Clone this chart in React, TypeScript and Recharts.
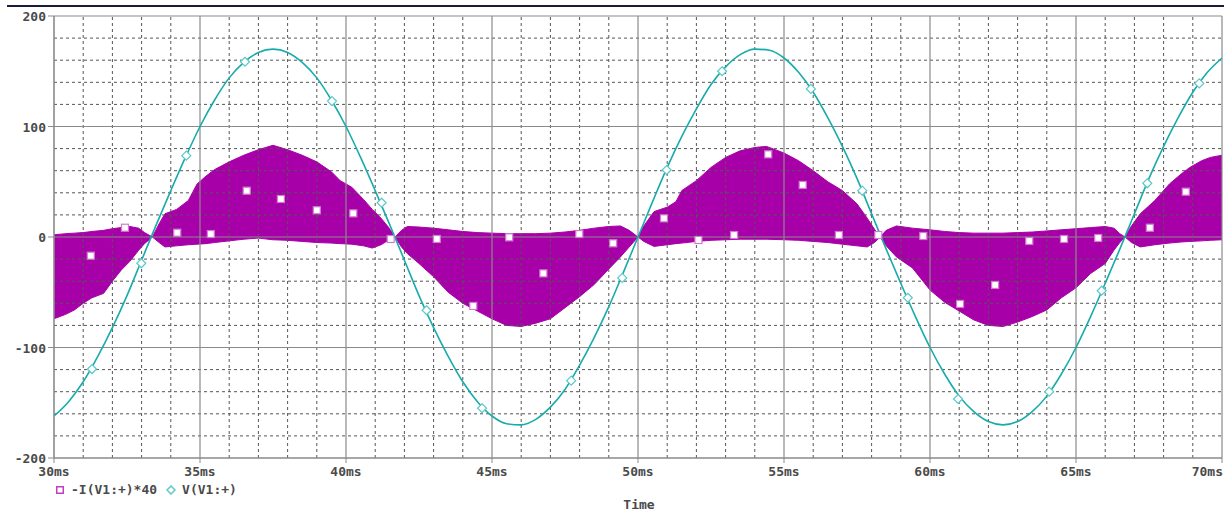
import React from 'react';
import { ComposedChart, Line, Area, Scatter, XAxis, YAxis, ReferenceLine } from 'recharts';

const vTimes = [30, 30.5, 31, 31.5, 32, 32.5, 33, 33.5, 34, 34.5, 35, 35.5, 36, 36.5, 37, 37.5, 38, 38.5, 39, 39.5, 40, 40.5, 41, 41.5, 42, 42.5, 43, 43.5, 44, 44.5, 45, 45.5, 46, 46.5, 47, 47.5, 48, 48.5, 49, 49.5, 50, 50.5, 51, 51.5, 52, 52.5, 53, 53.5, 54, 54.5, 55, 55.5, 56, 56.5, 57, 57.5, 58, 58.5, 59, 59.5, 60, 60.5, 61, 61.5, 62, 62.5, 63, 63.5, 64, 64.5, 65, 65.5, 66, 66.5, 67, 67.5, 68, 68.5, 69, 69.5, 70];
const vValues = [-162, -149, -131, -108, -82, -53, -21, 11, 42, 72, 100, 124, 144, 158, 167, 170, 167, 158, 144, 124, 100, 72, 42, 11, -21, -53, -82, -108, -131, -149, -162, -169, -170, -165, -154, -138, -116, -91, -63, -32, 0, 32, 63, 91, 116, 138, 154, 165, 170, 169, 162, 149, 131, 108, 82, 53, 21, -11, -42, -72, -100, -124, -144, -158, -167, -170, -167, -158, -144, -124, -100, -72, -42, -11, 21, 53, 82, 108, 131, 149, 162];

// Current -I(V1:+)*40 : ripple envelope (upper / lower)
const iTimes = [30, 30.4, 30.7, 31.0, 31.3, 31.7, 32.0, 32.3, 32.6, 32.9, 33.1, 33.37,
  33.6, 33.8, 34.2, 34.6, 34.9, 35.2, 35.5, 36.0, 36.5, 37.0, 37.5, 38.0, 38.5, 39.0, 39.5, 39.8, 40.2, 40.6, 40.9, 41.2, 41.45, 41.68,
  41.9, 42.1, 42.5, 43.0, 43.5, 44.0, 44.5, 45.0, 45.5, 46.0, 46.5, 47.0, 47.5, 48.0, 48.5, 49.0, 49.4, 49.7, 50.0,
  50.2, 50.55, 51.0, 51.3, 51.5, 52.0, 52.5, 53.0, 53.5, 54.0, 54.4, 55.0, 55.5, 56.0, 56.5, 57.0, 57.5, 57.85, 58.1, 58.29,
  58.5, 58.85, 59.4, 60.0, 60.5, 61.0, 61.5, 62.0, 62.5, 63.0, 63.5, 64.0, 64.5, 65.0, 65.5, 66.0, 66.3, 66.5, 66.68,
  66.9, 67.2, 67.7, 68.2, 68.6, 68.9, 69.3, 69.6, 70.0];
const iUpper = [2, 3, 3.5, 4, 5, 6, 7.5, 8.5, 9.5, 8, 4, 0,
  12, 21, 25, 33, 48, 55, 61, 68, 74, 79, 83, 79, 74, 68, 59, 51, 45, 34, 25, 17, 9, 0,
  6, 9.5, 9, 8, 6.5, 5, 4, 3.5, 3, 3, 3, 3.5, 4.5, 6, 8, 9.5, 10, 6, 0,
  10, 23, 27, 32, 42, 51, 63, 72, 78, 81, 82, 76, 69, 60, 50, 42, 30, 17, 7, 0,
  6, 10, 8, 6.5, 5, 4, 3.5, 3.5, 3.5, 4, 4.5, 5.5, 6.5, 7.5, 8.5, 9.5, 8, 3, 0,
  10, 21, 33, 48, 57, 63, 69, 72, 74];
const iLower = [-74, -70, -66, -60, -55, -51, -40, -30, -22, -12, -6, 0,
  -5, -9, -8, -7, -6.5, -6, -5, -3.5, -2, -1, -2.5, -3, -4, -5, -5.5, -6, -6.5, -8, -10, -7, -3, 0,
  -9, -15, -24, -36, -50, -60, -67, -74, -80, -81, -78, -74, -64, -54, -43, -29, -18, -9, 0,
  -4, -8.5, -7, -6, -5.5, -4, -3, -2.5, -2, -2, -2, -2.5, -3, -4, -5, -6.5, -8, -9, -5, 0,
  -8, -18, -28, -48, -59, -67, -75, -80, -81, -77, -72, -66, -55, -46, -33, -24, -12, -5, 0,
  -5, -9, -7, -5.5, -4.5, -4, -3.5, -3, -2.5];

// Square markers on the current trace
const sqTimes = [31.26, 32.43, 34.22, 35.37, 36.6, 37.77, 39.0, 40.25, 41.53, 43.11, 44.36, 45.59, 46.76, 47.99, 49.15, 50.89, 52.07, 53.29, 54.46, 55.64, 56.88, 58.23, 59.77, 61.03, 62.23, 63.4, 64.59, 65.76, 67.53, 68.76];
const sqValues = [-16.9, 8.4, 3.9, 2.7, 41.9, 34.4, 24.2, 21.4, -1.8, -1.8, -62.4, -0.3, -32.9, 2.7, -5.7, 16.9, -2.7, 1.8, 74.8, 47.1, 1.8, 1.8, 0.9, -60.6, -43.4, -3.6, -1.8, -0.9, 8.4, 41.0];

// Diamond markers on the voltage trace
const dmTimes = [31.3, 32.99, 34.53, 36.54, 39.52, 41.22, 42.76, 44.66, 47.71, 49.46, 50.98, 52.88, 55.92, 57.68, 59.24, 60.96, 64.08, 65.88, 67.44, 69.22];
const dmValues = [-119.5, -23.8, 73.6, 158.6, 123, 31, -66.3, -155, -130, -37, 60.6, 150, 134, 41.9, -55, -146.6, -140, -48.6, 48.6, 139];

const xTicks = [30, 35, 40, 45, 50, 55, 60, 65, 70];
const yTicks = [-200, -100, 0, 100, 200];
const xMinor = [31, 32, 33, 34, 36, 37, 38, 39, 41, 42, 43, 44, 46, 47, 48, 49, 51, 52, 53, 54, 56, 57, 58, 59, 61, 62, 63, 64, 66, 67, 68, 69];
const yMinor = [-180, -160, -140, -120, -80, -60, -40, -20, 20, 40, 60, 80, 120, 140, 160, 180];

const MAGENTA = '#a800a8';
const CYAN = '#18abab';
const FONT = '"DejaVu Sans Mono", monospace';
const TXT = '#4a4a4a';

const Square = (p: any) => (
  <rect x={p.cx - 3.5} y={p.cy - 3.5} width={7} height={7} fill="#fff" stroke="#d27ad2" strokeWidth={1.2} />
);
const Diamond = (p: any) => (
  <polygon points={`${p.cx},${p.cy - 4.5} ${p.cx + 4.5},${p.cy} ${p.cx},${p.cy + 4.5} ${p.cx - 4.5},${p.cy}`} fill="#fff" stroke="#5cc8c8" strokeWidth={1.2} />
);

const XTick = (p: any) => {
  const { x, y, payload } = p;
  const last = payload.value === 70;
  return (
    <text x={last ? x + 1 : x} y={y + 11} textAnchor={last ? 'end' : 'middle'} fontFamily={FONT} fontSize={13} fontWeight="bold" fill={TXT}>
      {`${payload.value}ms`}
    </text>
  );
};
const YTick = (p: any) => {
  const { x, y, payload } = p;
  return (
    <text x={x} y={y + 5} textAnchor="end" fontFamily={FONT} fontSize={13} fontWeight="bold" fill={TXT}>
      {payload.value}
    </text>
  );
};

export default function App() {
  const vData = vTimes.map((t, i) => ({ t, v: vValues[i] }));
  const iData = iTimes.map((t, i) => ({ t, band: [iLower[i], iUpper[i]] }));
  const sqData = sqTimes.map((t, i) => ({ t, v: sqValues[i] }));
  const dmData = dmTimes.map((t, i) => ({ t, v: dmValues[i] }));

  return (
    <div style={{ position: 'absolute', left: 0, top: 0, width: 1230, height: 516, background: '#fff' }}>
      <div style={{ position: 'absolute', left: 7, top: 5, width: 1217, height: 2, background: '#1c1c38' }} />
      <ComposedChart width={1230} height={516} margin={{ top: 16, right: 8, bottom: 28, left: 0 }} data={iData}>
        <XAxis dataKey="t" type="number" domain={[30, 70]} ticks={xTicks} allowDataOverflow height={30}
          axisLine={{ stroke: '#8a8a8a' }} tickLine={{ stroke: '#8a8a8a' }} tickSize={5} tick={<XTick />} interval={0} />
        <YAxis type="number" domain={[-200, 200]} ticks={yTicks} allowDataOverflow width={54}
          axisLine={{ stroke: '#8a8a8a' }} tickLine={{ stroke: '#8a8a8a' }} tickSize={6} tick={<YTick />} interval={0} />
        {xMinor.map((v) => (
          <ReferenceLine key={'xm' + v} x={v} stroke="#555" strokeDasharray="3 3" strokeWidth={1} />
        ))}
        {yMinor.map((v) => (
          <ReferenceLine key={'ym' + v} y={v} stroke="#555" strokeDasharray="3 3" strokeWidth={1} />
        ))}
        {xTicks.map((v) => (
          <ReferenceLine key={'xM' + v} x={v} stroke="#8a8a8a" strokeWidth={1.2} />
        ))}
        {yTicks.map((v) => (
          <ReferenceLine key={'yM' + v} y={v} stroke="#8a8a8a" strokeWidth={1.2} />
        ))}
        <Area data={iData} dataKey="band" type="linear" stroke={MAGENTA} strokeWidth={1} fill={MAGENTA} fillOpacity={1} isAnimationActive={false} dot={false} activeDot={false} />
        <Line data={vData} dataKey="v" type="monotone" stroke={CYAN} strokeWidth={1.6} dot={false} activeDot={false} isAnimationActive={false} />
        <Scatter data={sqData} dataKey="v" shape={<Square />} isAnimationActive={false} />
        <Scatter data={dmData} dataKey="v" shape={<Diamond />} isAnimationActive={false} />
      </ComposedChart>
      <div style={{ position: 'absolute', left: 56, top: 482, fontFamily: FONT, fontSize: 13, fontWeight: 'bold', color: TXT, whiteSpace: 'pre', lineHeight: '16px', display: 'flex', alignItems: 'center' }}>
        <svg width={8} height={8} style={{ marginRight: 7 }}><rect x={0.75} y={0.75} width={6.5} height={6.5} fill="#fff" stroke="#c040c0" strokeWidth={1.5} /></svg>
        <span>-I(V1:+)*40</span>
        <svg width={10} height={10} style={{ marginLeft: 9, marginRight: 6 }}><polygon points="5,1 9,5 5,9 1,5" fill="#fff" stroke="#5cc8c8" strokeWidth={1.5} /></svg>
        <span>V(V1:+)</span>
      </div>
      <div style={{ position: 'absolute', left: 0, width: 1278, top: 497, textAlign: 'center', fontFamily: FONT, fontSize: 13, fontWeight: 'bold', color: TXT }}>
        Time
      </div>
    </div>
  );
}
